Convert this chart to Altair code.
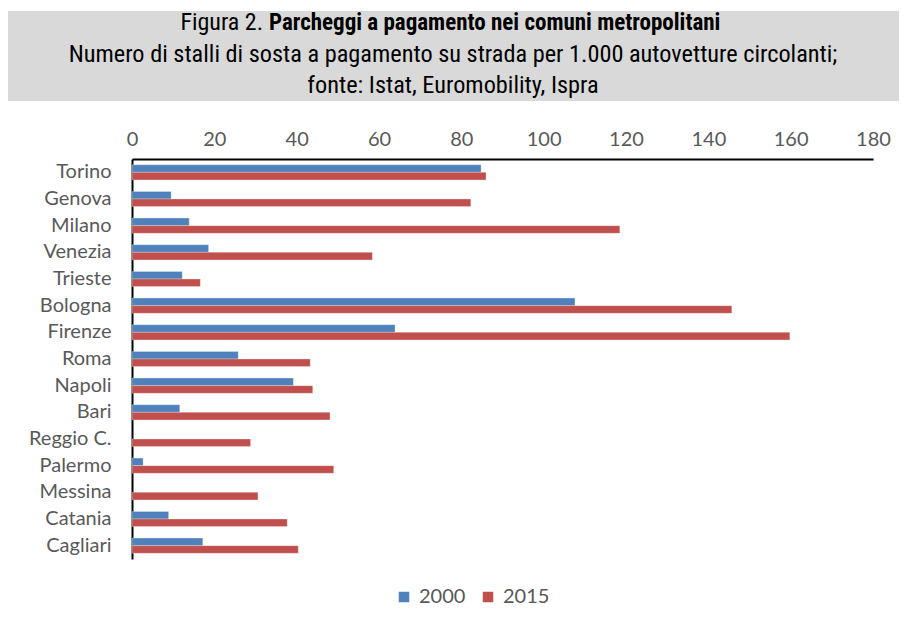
import altair as alt
import pandas as pd

cities = ["Torino", "Genova", "Milano", "Venezia\u00a0", "Trieste", "Bologna", "Firenze\u00a0",
          "Roma\u00a0", "Napoli", "Bari", "Reggio C.", "Palermo", "Messina\u00a0", "Catania", "Cagliari"]
v2000 = [84.8, 9.5, 13.9, 18.6, 12.2, 107.6, 63.9, 25.8, 39.2, 11.6, None, 2.7, None, 8.9, 17.2]
v2015 = [86.0, 82.3, 118.5, 58.4, 16.6, 145.7, 159.8, 43.3, 43.9, 48.1, 28.8, 49.0, 30.6, 37.7, 40.4]
years = ["2000", "2015"]
colors = ["#4f81bd", "#c0504d"]
x_ticks = [0, 20, 40, 60, 80, 100, 120, 140, 160, 180]

title_prefix = "Figura 2."
title_bold = "Parcheggi a pagamento nei comuni metropolitani"
subtitle1 = "Numero di stalli di sosta a pagamento su strada per 1.000 autovetture circolanti;"
subtitle2 = "fonte: Istat, Euromobility, Ispra"

rows = []
for c, a, b in zip(cities, v2000, v2015):
    if a is not None:
        rows.append({"city": c, "year": "2000", "value": a})
    rows.append({"city": c, "year": "2015", "value": b})
df = pd.DataFrame(rows)

W, H = 741, 400
LABEL_FONT = "Lato"
TITLE_FONT = "Liberation Sans Narrow, Arial Narrow, Roboto Condensed, Liberation Sans, sans-serif"

bars = alt.Chart(df).mark_bar(stroke="white", strokeOpacity=0.35, strokeWidth=0.8).encode(
    x=alt.X("value:Q",
            scale=alt.Scale(domain=[0, 180], nice=False),
            axis=alt.Axis(orient="top", values=x_ticks, title=None, grid=False, ticks=False,
                          labelFlush=False,
                          domainColor="black", domainWidth=2, labelColor="#595959",
                          labelFont=LABEL_FONT, labelFontSize=20, labelPadding=10)),
    y=alt.Y("city:N", sort=cities,
            scale=alt.Scale(domain=cities, paddingInner=0.43, paddingOuter=0.215),
            axis=alt.Axis(title=None, ticks=False, domainColor="black", domainWidth=2,
                          labelColor="#595959", labelFont=LABEL_FONT, labelFontSize=20,
                          labelPadding=21)),
    yOffset=alt.YOffset("year:N", scale=alt.Scale(domain=years, paddingInner=0, paddingOuter=0)),
    color=alt.Color("year:N", scale=alt.Scale(domain=years, range=colors),
                    legend=alt.Legend(title=None, orient="none", direction="horizontal",
                                      legendX=262, legendY=428, symbolType="square",
                                      symbolSize=110, symbolStrokeWidth=0,
                                      labelFont=LABEL_FONT, labelFontSize=20,
                                      labelColor="#595959", columnPadding=12, labelOffset=5)),
)

box = alt.Chart(pd.DataFrame({"k": [0]})).mark_rect(color="#d9d9d9").encode(
    x=alt.value(-124), x2=alt.value(767), y=alt.value(-148), y2=alt.value(-58)
)

split_x = 137
cx = 321
t1a = alt.Chart(pd.DataFrame({"t": [title_prefix]})).mark_text(
    font=TITLE_FONT, fontSize=24, align="right", baseline="middle", color="black"
).encode(text="t:N", x=alt.value(split_x - 6), y=alt.value(-136))
t1b = alt.Chart(pd.DataFrame({"t": [title_bold]})).mark_text(
    font=TITLE_FONT, fontSize=23, fontWeight="bold", align="left", baseline="middle", color="black"
).encode(text="t:N", x=alt.value(split_x), y=alt.value(-136))
t2 = alt.Chart(pd.DataFrame({"t": [subtitle1]})).mark_text(
    font=TITLE_FONT, fontSize=24.3, align="center", baseline="middle", color="black"
).encode(text="t:N", x=alt.value(cx), y=alt.value(-104))
t3 = alt.Chart(pd.DataFrame({"t": [subtitle2]})).mark_text(
    font=TITLE_FONT, fontSize=24.3, align="center", baseline="middle", color="black"
).encode(text="t:N", x=alt.value(cx), y=alt.value(-73))

chart = alt.layer(box, t1a, t1b, t2, t3, bars).properties(
    width=W, height=H,
    background="white",
    autosize=alt.AutoSizeParams(type="none"),
    padding={"left": 124, "top": 151, "right": 26, "bottom": 50},
).configure_view(strokeWidth=0, stroke="transparent")

chart.save("out.html", embed_options={"renderer": "svg", "actions": False})
